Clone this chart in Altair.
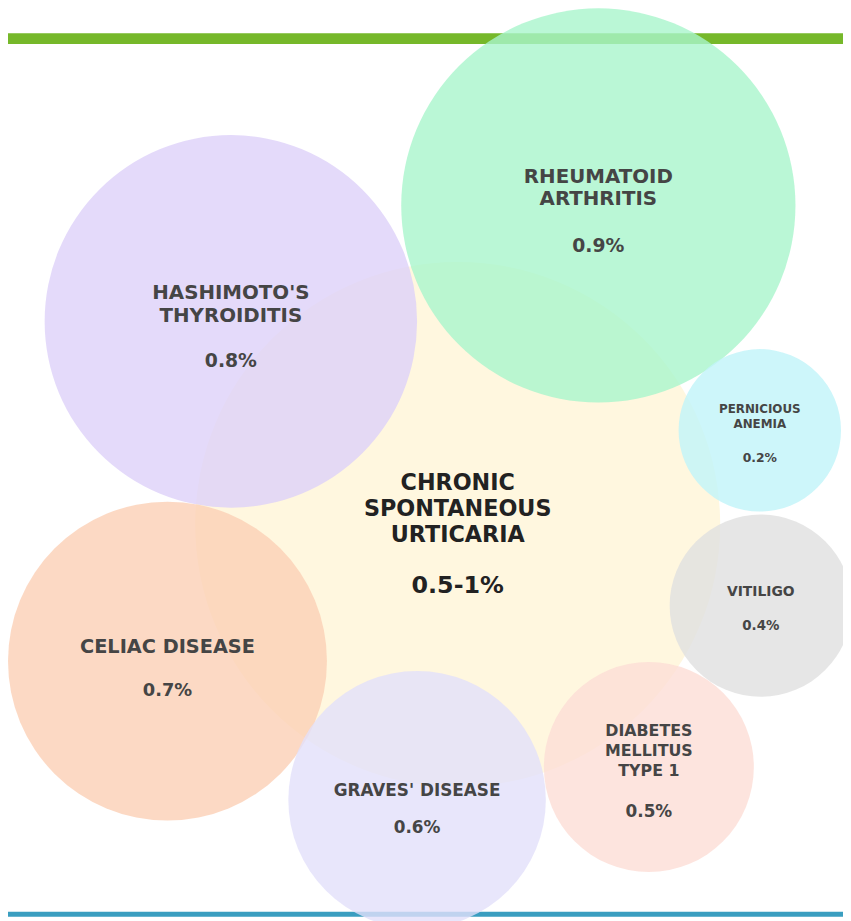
import altair as alt
import pandas as pd

# ---- data -------------------------------------------------------------
names = [
    "CHRONIC\nSPONTANEOUS\nURTICARIA",
    "RHEUMATOID\nARTHRITIS",
    "HASHIMOTO'S\nTHYROIDITIS",
    "PERNICIOUS\nANEMIA",
    "VITILIGO",
    "CELIAC DISEASE",
    "GRAVES' DISEASE",
    "DIABETES\nMELLITUS\nTYPE 1",
]
values = ["0.5-1%", "0.9%", "0.8%", "0.2%", "0.4%", "0.7%", "0.6%", "0.5%"]

# ---- layout (pixel space of the page) ---------------------------------
cx = [462, 604, 233, 767, 768, 169, 421, 655]
cy = [525, 203, 320, 430, 607, 663, 803, 770]
radius = [265, 199, 188, 82, 92, 161, 130, 106]
colors = ["#FFF5D7", "#A9F5CC", "#DDD1F9", "#C1F4F9", "#E0E0E0",
          "#FBCFB5", "#E2E0FA", "#FCDDD6"]
name_y = [490, 180, 297, 413, 597, 655, 799, 739]
line_h = [26.5, 23, 24, 15, 0, 0, 0, 20]
value_y = [594, 250, 366, 462, 632, 698, 837, 820]
font_size = [22.5, 20, 20, 12, 14, 19.5, 17, 16]
value_size = [24, 19, 19, 12.5, 13.5, 18, 17, 17]

circles = pd.DataFrame({
    "name": [n.replace("\n", " ") for n in names],
    "x": cx, "y": cy,
    "area": [(2 * r) ** 2 for r in radius],
    "color": colors,
    "z": list(range(len(names))),
})

rows = []
for i, n in enumerate(names):
    for j, line in enumerate(n.split("\n")):
        rows.append({"t": line, "x": cx[i], "y": name_y[i] + j * line_h[i],
                     "s": font_size[i], "main": i == 0})
    rows.append({"t": values[i], "x": cx[i], "y": value_y[i],
                 "s": value_size[i], "main": i == 0})
texts = pd.DataFrame(rows)

bands = pd.DataFrame({
    "x": [8, 8], "x2": [851, 851],
    "y": [29, 916], "y2": [40, 921],
    "c": ["#76B82A", "#3A9EC0"],
})

xs = alt.Scale(domain=[8, 851], nice=False, zero=False, padding=0)
ys = alt.Scale(domain=[8, 921], nice=False, zero=False, reverse=True, padding=0)

band_layer = alt.Chart(bands).mark_rect().encode(
    x=alt.X("x:Q", scale=xs, axis=None),
    x2="x2:Q",
    y=alt.Y("y:Q", scale=ys, axis=None),
    y2="y2:Q",
    color=alt.Color("c:N", scale=None),
)

circle_layer = alt.Chart(circles).mark_circle(opacity=0.8, strokeWidth=0).encode(
    x=alt.X("x:Q", scale=xs, axis=None),
    y=alt.Y("y:Q", scale=ys, axis=None),
    size=alt.Size("area:Q", scale=None),
    color=alt.Color("color:N", scale=None),
    order=alt.Order("z:Q"),
)

main_text = alt.Chart(texts).transform_filter("datum.main").mark_text(
    font="DejaVu Sans", fontWeight="bold", color="#222222",
    align="center", baseline="alphabetic",
).encode(
    x=alt.X("x:Q", scale=xs, axis=None),
    y=alt.Y("y:Q", scale=ys, axis=None),
    text="t:N",
    size=alt.Size("s:Q", scale=None),
)

other_text = alt.Chart(texts).transform_filter("!datum.main").mark_text(
    font="DejaVu Sans", fontWeight="bold", color="#454545",
    align="center", baseline="alphabetic",
).encode(
    x=alt.X("x:Q", scale=xs, axis=None),
    y=alt.Y("y:Q", scale=ys, axis=None),
    text="t:N",
    size=alt.Size("s:Q", scale=None),
)

chart = alt.layer(band_layer, circle_layer, main_text, other_text).properties(
    width=843, height=913, padding=0, autosize=alt.AutoSizeParams(type="none"),
    background="white",
).configure_view(stroke=None)

chart.save("out.html", embed_options={"renderer": "svg", "actions": False})
